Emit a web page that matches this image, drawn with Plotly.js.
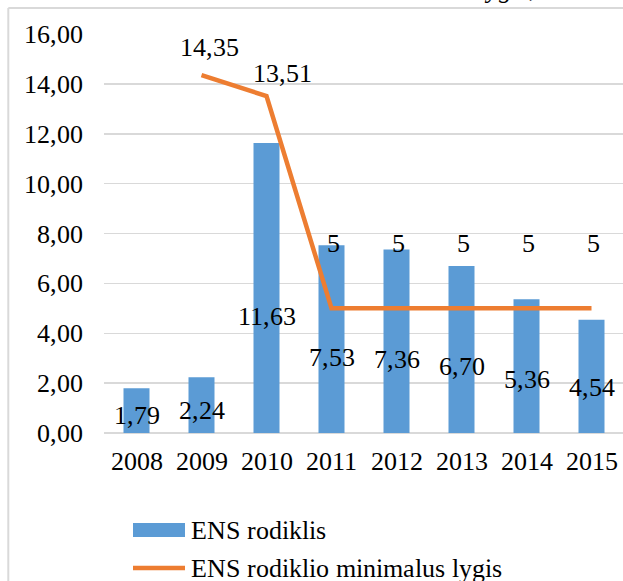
<!DOCTYPE html>
<html>
<head>
<meta charset="utf-8">
<script src="https://cdn.plot.ly/plotly-3.0.1.min.js"></script>
<style>
@font-face { font-family: 'ChartSerif'; font-style: normal; font-weight: 400;
  src: local('Liberation Serif'), local('LiberationSerif'), local('LiberationSerif-Regular'), local('Times New Roman'); }
@font-face { font-family: 'ChartSerif'; font-style: italic; font-weight: 400;
  src: local('Liberation Serif Italic'), local('LiberationSerif-Italic'), local('Times New Roman Italic'); }
html,body{margin:0;padding:0;overflow:hidden;background:#fff;font-family:'ChartSerif','Liberation Serif',serif;}
#chart{width:624px;height:581px;position:relative;}
#chart text, #chart tspan{font-family:'ChartSerif','Liberation Serif','Times New Roman',serif !important;}
#preload{position:absolute;left:0;top:0;opacity:0;font-family:'ChartSerif';font-size:26px;pointer-events:none;}
</style>
</head>
<body>
<div id="preload">0<i>0</i></div>
<div id="chart"></div>
<script>
const years = ['2008','2009','2010','2011','2012','2013','2014','2015'];
const ensValues = [1.79, 2.24, 11.63, 7.53, 7.36, 6.70, 5.36, 4.54];
const minLevel = [null, 14.35, 13.51, 5, 5, 5, 5, 5];
const minLevelLabels = ['', '14,35', '13,51', '5', '5', '5', '5', '5'];
const seriesNames = ['ENS rodiklis', 'ENS rodiklio minimalus lygis'];
const yTicks = [0, 2, 4, 6, 8, 10, 12, 14, 16];
const captionStart = 'ENS rodiklis ir ENS rodiklio minimalus';
const captionEnd = 'lygis, 2008–2015 m.';

const FONT = 'ChartSerif, Liberation Serif, serif';
const FS = 26;
const BLUE = '#5B9BD5';
const ORANGE = '#ED7D31';
const GRID = '#d9d9d9';

// pixel helpers for decoration placement (plot area 104..624 x 34..433)
const L = 104, T = 34, W = 520, H = 399;
const px = x => (x - L) / W;
const py = y => (T + H - y) / H;

const fmt = v => v.toFixed(2).replace('.', ',');
const tf = () => ({family: FONT, size: FS, color: '#000000'});

const annotations = [];
// bar labels (category index positions)
ensValues.forEach((v, i) => {
  annotations.push({
    x: i, y: v * 0.4, xref: 'x', yref: 'y',
    text: fmt(v), showarrow: false, font: tf(),
    xanchor: 'center', yanchor: 'middle'
  });
});
// line labels
minLevel.forEach((v, i) => {
  if (v === null) return;
  let xs = 2, ys = 65;
  if (i === 1) { xs = 8; ys = 28; }
  if (i === 2) { xs = 16; ys = 23; }
  annotations.push({
    x: i, y: v, xref: 'x', yref: 'y',
    text: minLevelLabels[i], showarrow: false, font: tf(),
    xanchor: 'center', yanchor: 'middle', xshift: xs, yshift: ys
  });
});
// legend texts
annotations.push({
  x: px(189), y: py(530), xref: 'paper', yref: 'paper', text: seriesNames[0],
  showarrow: false, xanchor: 'left', yanchor: 'middle', font: tf()
});
annotations.push({
  x: px(189), y: py(568), xref: 'paper', yref: 'paper', text: seriesNames[1],
  showarrow: false, xanchor: 'left', yanchor: 'middle', font: tf()
});
// clipped caption above (only its lower edge is visible)
annotations.push({
  x: px(474), y: py(4.5), xref: 'paper', yref: 'paper', text: '<i>' + captionStart + '</i>',
  showarrow: false, xanchor: 'right', yanchor: 'bottom', font: tf()
});
annotations.push({
  x: px(478), y: py(4.5), xref: 'paper', yref: 'paper', text: '<i>' + captionEnd + '</i>',
  showarrow: false, xanchor: 'left', yanchor: 'bottom', font: tf()
});

const shapes = [
  // chart border (left + top)
  {type: 'line', xref: 'paper', yref: 'paper', x0: px(8.3), x1: px(8.3), y0: py(8), y1: py(600),
   line: {color: GRID, width: 2}},
  {type: 'line', xref: 'paper', yref: 'paper', x0: px(8.3), x1: px(640), y0: py(8), y1: py(8),
   line: {color: GRID, width: 2}},
  // legend swatches
  {type: 'rect', xref: 'paper', yref: 'paper', x0: px(133), x1: px(185), y0: py(537), y1: py(523),
   fillcolor: BLUE, line: {width: 0}},
  {type: 'line', xref: 'paper', yref: 'paper', x0: px(133), x1: px(185), y0: py(568), y1: py(568),
   line: {color: ORANGE, width: 4.5}}
];

const data = [
  {type: 'bar', x: years, y: ensValues, name: seriesNames[0],
   marker: {color: BLUE}, width: 0.4, hoverinfo: 'skip'},
  {type: 'scatter', mode: 'lines', x: years, y: minLevel, name: seriesNames[1],
   line: {color: ORANGE, width: 4.5}, connectgaps: false, hoverinfo: 'skip'}
];

const layout = {
  width: 624, height: 581,
  margin: {l: L, r: 0, t: T, b: 581 - T - H, pad: 0},
  paper_bgcolor: '#fff', plot_bgcolor: '#fff',
  showlegend: false,
  xaxis: {type: 'category', range: [-0.5, 7.5], autorange: false,
          showgrid: false, zeroline: false, showline: false,
          ticks: '', tickfont: tf(), ticklabelstandoff: 10},
  yaxis: {range: [0, 16], autorange: false, tickvals: yTicks, ticktext: yTicks.map(fmt),
          showgrid: true, gridcolor: GRID, gridwidth: 1.5,
          zeroline: true, zerolinecolor: GRID, zerolinewidth: 1.5,
          showline: false, ticks: '', ticklabelstandoff: 20,
          tickfont: tf()},
  annotations: annotations,
  shapes: shapes
};

const cfg = {displayModeBar: false, staticPlot: true};
Plotly.newPlot('chart', data, layout, cfg);
if (document.fonts && document.fonts.load) {
  Promise.all([document.fonts.load('26px ChartSerif'), document.fonts.load('italic 26px ChartSerif')])
    .then(() => Plotly.react('chart', data, layout, cfg)).catch(() => {});
}
</script>
</body>
</html>
